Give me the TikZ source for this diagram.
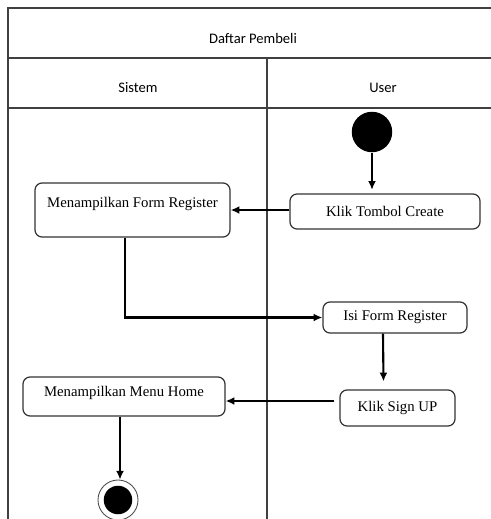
\documentclass[tikz,border=0pt]{standalone}
\usepackage{fontspec}
\setmainfont{Liberation Serif}
\newfontfamily\headfont{Carlito}
\usetikzlibrary{arrows.meta, positioning, calc}

\begin{document}
\begin{tikzpicture}[
    >={Latex[length=5pt, width=4.5pt]},
    lane/.style={draw=black!75, line width=0.7pt},
    act/.style={draw=black!80, line width=0.7pt, rounded corners=4pt, inner sep=0pt, font=\fontsize{8.4}{10}\selectfont},
    flow/.style={->, line width=1.2pt},
    head/.style={font=\headfont\fontsize{8.3}{10}\selectfont}
]
\useasboundingbox (0, 0) rectangle (9.82, -10.38);

% Swimlane frame
\draw[lane] (9.82, -0.16) -- (0.16, -0.16) -- (0.16, -10.38);
\draw[lane] (0.16, -1.16) -- (9.82, -1.16);
\draw[lane] (0.16, -2.16) -- (9.82, -2.16);
\draw[lane] (5.34, -1.16) -- (5.34, -10.38);

\node (title) [head] at (5.06, -0.76) {Daftar Pembeli};
\node (sistem) [head] at (2.76, -1.76) {Sistem};
\node (user) [head] at (7.66, -1.76) {User};

% Start and end
\node (start) [circle, fill=black, minimum size=0.81cm, inner sep=0pt] at (7.44, -2.64) {};
\node (stop) [circle, fill=black, minimum size=0.57cm, inner sep=0pt] at (2.36, -10.0) {};
\draw[black!70, line width=0.5pt] (stop) circle (0.4cm);

% Activities
\node (create) [act, minimum width=3.8cm, minimum height=0.7cm] at (7.7, -4.23) {Klik Tombol Create};
\node (formreg) [act, minimum width=3.9cm, minimum height=1.08cm, text depth=0.3cm] at (2.65, -4.2) {Menampilkan Form Register};
\node (isiform) [act, minimum width=2.88cm, minimum height=0.62cm] at (7.9, -6.35) {Isi Form Register};
\node (signup) [act, minimum width=2.3cm, minimum height=0.72cm] at (7.95, -8.16) {Klik Sign UP};
\node (home) [act, minimum width=4.04cm, minimum height=0.78cm, text depth=0.2cm] at (2.48, -7.93) {Menampilkan Menu Home};

% Flows
\draw[flow] (start) -- ([yshift=2pt]create.north -| start);
\draw[flow] (create.west |- formreg.east) -- (formreg.east);
\draw[flow] ([xshift=-0.15cm]formreg.south) |- (isiform.west);
\draw[flow] ([xshift=-0.24cm]isiform.south) -- ([xshift=-0.28cm, yshift=0.16cm]signup.north);
\coordinate (signupout) at ([xshift=-0.1cm, yshift=0.14cm]signup.west);
\draw[flow] (signupout) -- (signupout -| home.east);
\coordinate (homeout) at ([xshift=-0.08cm]home.south);
\draw[flow] (homeout) -- ([yshift=0.115cm]homeout |- stop.north);

\end{tikzpicture}
\end{document}
